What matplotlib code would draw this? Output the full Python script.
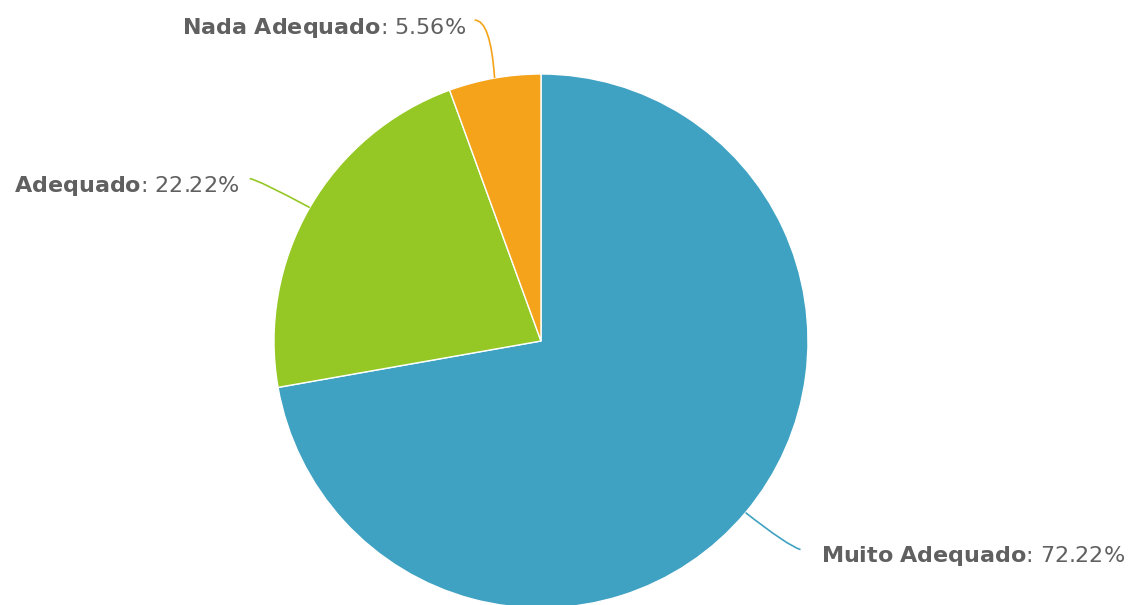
import matplotlib
matplotlib.use("Agg")
import matplotlib.pyplot as plt
import numpy as np
from matplotlib.path import Path
from matplotlib.patches import PathPatch

categories = ["Muito Adequado", "Adequado", "Nada Adequado"]
values = [72.22, 22.22, 5.56]
colors = ["#40a2c2", "#95c825", "#f5a31a"]

plt.rcParams["mathtext.fontset"] = "dejavusans"
plt.rcParams["font.family"] = "DejaVu Sans"

W, H = 1128, 605
fig = plt.figure(figsize=(W / 100, H / 100), dpi=100)
ax = fig.add_axes([0, 0, 1, 1])
R = 267.0
cx, cy = 541.0, 605 - 341.0

wedges, _ = ax.pie(values, colors=colors, startangle=90, counterclock=False,
                   radius=1.0, center=(0, 0),
                   wedgeprops=dict(edgecolor="white", linewidth=1))
ax.set_xlim(-cx / R, (W - cx) / R)
ax.set_ylim(-cy / R, (H - cy) / R)
ax.set_aspect("equal")
ax.axis("off")

# label layout: (elbow offset, end offset, text offset, ha) in pixel units relative to edge point
layout = {
    "Muito Adequado": ((42, -33), (55, -37), (75, -49), "left"),
    "Adequado": ((-50, 27), (-60, 29), (-70, 16), "right"),
    "Nada Adequado": ((-4, 58), (-20, 58), (-28, 44), "right"),
}

cum = 0.0
total = sum(values)
for name, v, c in zip(categories, values, colors):
    mid = 90 - (cum + v / 2) / total * 360
    cum += v
    a = np.deg2rad(mid)
    ex, ey = np.cos(a), np.sin(a)
    (e1, e2, t, ha) = layout[name]
    p1 = (ex + e1[0] / R, ey + e1[1] / R)
    p2 = (ex + e2[0] / R, ey + e2[1] / R)
    path = Path([(ex, ey), p1, p2], [Path.MOVETO, Path.CURVE3, Path.CURVE3])
    ax.add_patch(PathPatch(path, facecolor="none", edgecolor=c, linewidth=1.2))
    label = r"$\mathbf{" + name.replace(" ", r"\ ") + r"}$" + f": {v:.2f}%"
    ax.text(ex + t[0] / R, ey + t[1] / R, label, ha=ha, va="baseline",
            fontsize=16, color="#606060")

fig.savefig("out.png", dpi=100)
